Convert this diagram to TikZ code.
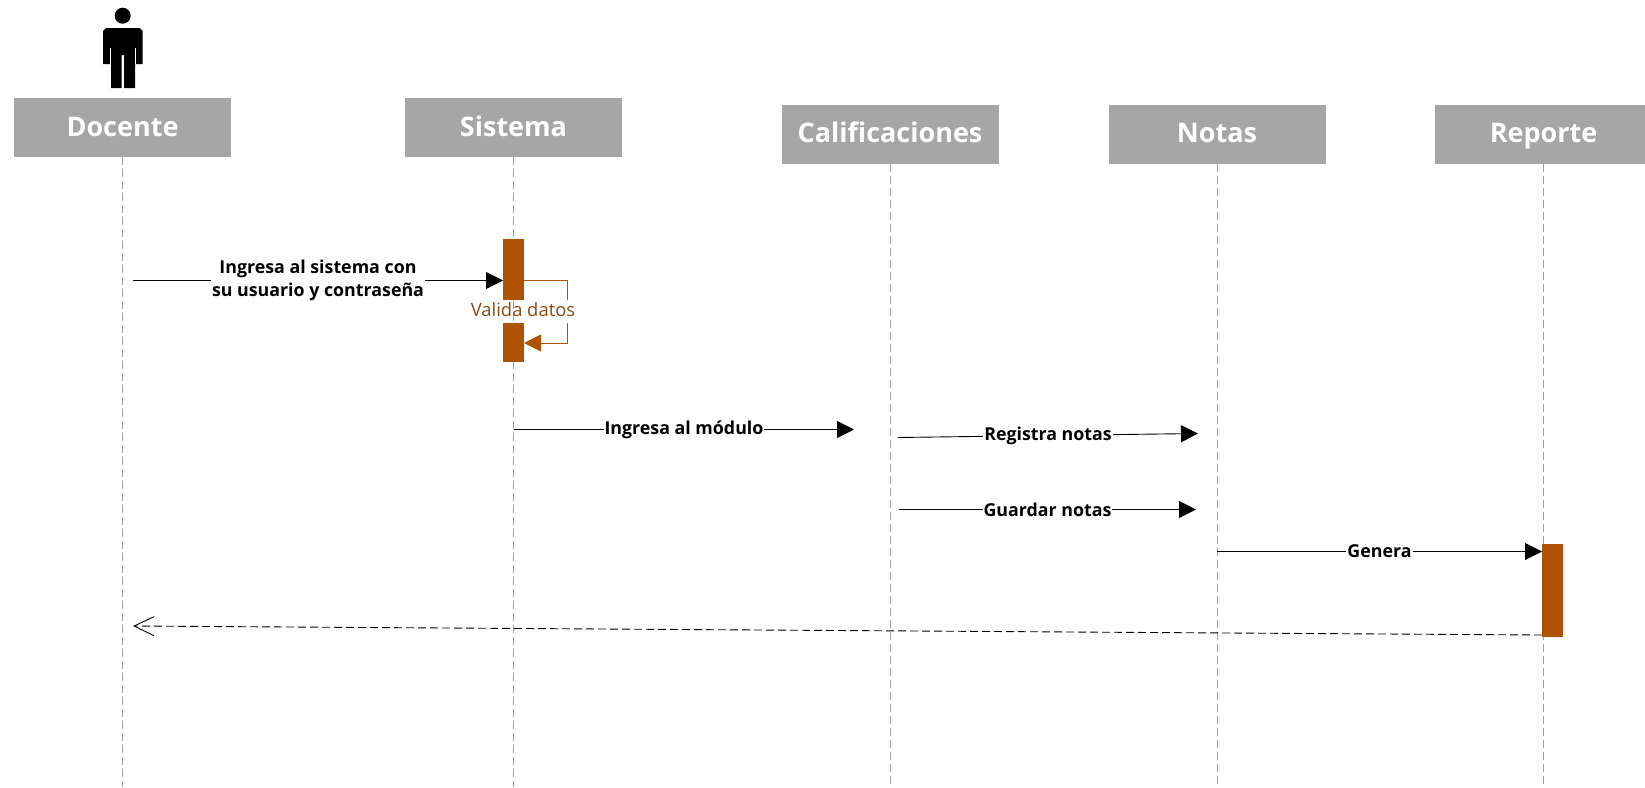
\documentclass[tikz,border=0pt]{standalone}
\usepackage{fontspec}
\setmainfont{Open Sans}
\usetikzlibrary{arrows.meta}
\definecolor{headgray}{HTML}{A6A6A6}
\definecolor{activbrown}{HTML}{AF5300}
\definecolor{selfbrown}{HTML}{8A4A14}
\tikzset{
	header/.style={fill=headgray, minimum width=217, minimum height=59, inner sep=0, text=white, text height=22, text depth=5, font=\fontsize{27}{30}\selectfont\bfseries},
	lifeline/.style={color=black!38, dashed, dash pattern=on 8pt off 4pt, line width=1pt},
	activ/.style={fill=activbrown, minimum width=21, inner sep=0},
	msg/.style={line width=0.9pt, -{Triangle[length=17pt,width=17pt]}},
	msglabel/.style={fill=white, inner sep=1pt, align=center, font=\fontsize{17.8}{23}\selectfont\bfseries},
	selfmsg/.style={color=activbrown, line width=0.9pt},
}
\begin{document}
\begin{tikzpicture}[x=1pt, y=-1pt]
\useasboundingbox (0,0) rectangle (1645,787);

\fill [black] (122.7,15.7) circle (8);
\fill [black] (106,28) -- (139.7,28) -- (142.7,31) -- (142.7,64) -- (135,64) -- (135,88) -- (124,88) -- (124,55) -- (121.7,55) -- (121.7,88) -- (111,88) -- (111,64) -- (103,64) -- (103,31) -- cycle;
\draw [white, line width=0.6pt] (110.5,48) -- (110.5,64);
\draw [white, line width=0.6pt] (135,48) -- (135,64);

\node [header] (docente) at (122.5,127.7) {Docente};
\node [header] (sistema) at (513.5,127.7) {Sistema};
\node [header] (calif) at (890,134.3) {Calificaciones};
\node [header] (notas) at (1217,134.3) {Notas};
\node [header] (reporte) at (1543.5,134.3) {Reporte};

\coordinate (endA) at (122.5,787);
\coordinate (endB) at (513.5,787);
\coordinate (endC) at (890,787);
\coordinate (endD) at (1217,787);
\coordinate (endE) at (1543.5,787);
\draw [lifeline] (docente.south) -- (endA);
\draw [lifeline] (sistema.south) -- (endB);
\draw [lifeline] (calif.south) -- (endC);
\draw [lifeline] (notas.south) -- (endD);
\draw [lifeline] (reporte.south) -- (endE);

\node [activ, minimum height=61] (activA) at (513.5,269.5) {};
\node [activ, minimum height=39] (activB) at (513.5,342.5) {};
\node [activ, minimum height=93] (activC) at (1552.5,590.5) {};

% self message
\node [text=selfbrown, inner sep=0, font=\fontsize{18.4}{21}\selectfont] (valida) at (523,310) {Valida datos};
\coordinate (selfA) at (524,280.5);
\coordinate (selfB) at (567,280.5);
\coordinate (selfC) at (567,300);
\coordinate (selfD) at (567,323);
\coordinate (selfE) at (567,343);
\coordinate (selfF) at (524,343);
\draw [selfmsg] (selfA) -- (selfB) -- (selfC);
\draw [selfmsg, -{Triangle[length=17pt,width=17pt]}] (selfD) -- (selfE) -- (selfF);

\coordinate (msgA) at (133,280.5);
\coordinate (msgB) at (503,280.5);
\draw [msg] (msgA) -- (msgB) node [msglabel, pos=0.5] (ingresa) {Ingresa al sistema con\\su usuario y contraseña};

\coordinate (msgC) at (514,429.5);
\coordinate (msgD) at (854,429.5);
\draw [msg] (msgC) -- (msgD) node [msglabel, pos=0.5] (modulo) {Ingresa al módulo};

\coordinate (msgE) at (898,437.5);
\coordinate (msgF) at (1198,433.5);
\draw [msg] (msgE) -- (msgF) node [msglabel, pos=0.5] (registra) {Registra notas};

\coordinate (msgG) at (899,509.5);
\coordinate (msgH) at (1196,509.5);
\draw [msg] (msgG) -- (msgH) node [msglabel, pos=0.5] (guardar) {Guardar notas};

\coordinate (msgI) at (1217,551.5);
\coordinate (msgJ) at (1542,551.5);
\draw [msg] (msgI) -- (msgJ) node [msglabel, pos=0.5] (genera) {Genera};

\coordinate (retA) at (1542,635);
\coordinate (retB) at (133,626);
\draw [line width=0.9pt, dashed, dash pattern=on 8pt off 4pt, -{Straight Barb[length=20pt,width=19pt,line width=0.9pt]}] (retA) -- (retB);
\end{tikzpicture}
\end{document}
